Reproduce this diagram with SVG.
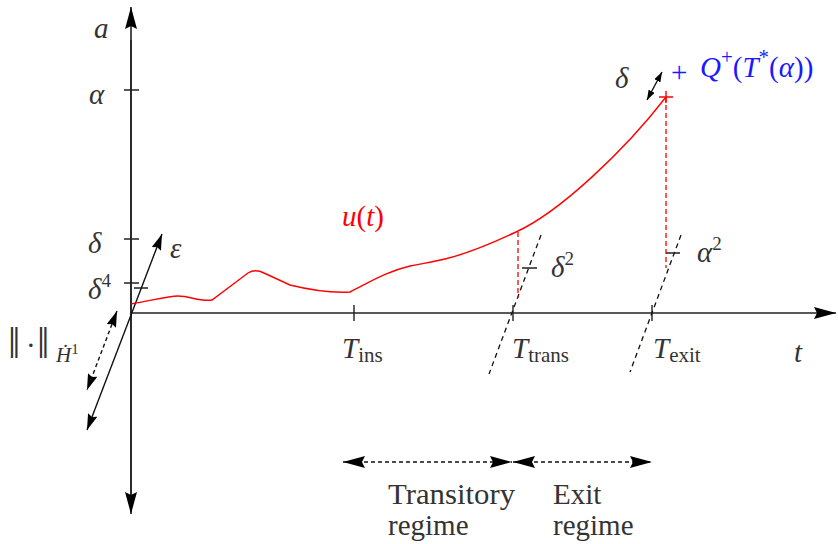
<svg xmlns="http://www.w3.org/2000/svg" width="838" height="544" viewBox="0 0 838 544">
<style>
text{font-family:"Liberation Serif","DejaVu Serif",serif;font-size:29px;fill:#333}
.it{font-style:italic}
.sub{font-size:21px;font-style:normal}
.sup{font-size:19px;font-style:normal}
.ax{stroke:#222;stroke-width:1.6;fill:none}
.tk{stroke:#222;stroke-width:1.4;fill:none}
.dk{stroke:#111;stroke-width:1.3;stroke-dasharray:5,4;fill:none}
.rd{stroke:#f00;stroke-width:1.3;stroke-dasharray:5,3;fill:none}
.arr{stroke:#111;stroke-width:1.4;fill:none}
.red{fill:#f00}
.blue{fill:#1a1aff}
</style>
<defs>
<marker id="big" viewBox="0 0 22 12" refX="22" refY="6" markerWidth="22" markerHeight="12" markerUnits="userSpaceOnUse" orient="auto-start-reverse"><path d="M0,0 L22,6 L0,12 L3,6 z" fill="#000"/></marker>
<marker id="mid" viewBox="0 0 16 10" refX="16" refY="5" markerWidth="16" markerHeight="10" markerUnits="userSpaceOnUse" orient="auto-start-reverse"><path d="M0,0 L16,5 L0,10 L2,5 z" fill="#000"/></marker>
<marker id="sm" viewBox="0 0 10 7" refX="10" refY="3.5" markerWidth="10" markerHeight="7" markerUnits="userSpaceOnUse" orient="auto-start-reverse"><path d="M0,0 L10,3.5 L0,7 z" fill="#000"/></marker>
</defs>

<g id="axes">
<line class="ax" x1="131" y1="500" x2="131" y2="7" marker-end="url(#big)"/>
<line class="ax" x1="131" y1="40" x2="131" y2="514" marker-end="url(#big)"/>
<line class="ax" x1="131" y1="313" x2="836" y2="313" stroke-width="2" marker-end="url(#big)"/>
<path class="tk" d="M124,90H139M124,239H139M124,283H139M134,288H148M354,305V321M513,305V321M652,305V321M522,268H537M666,253H680"/>
</g>

<g id="labels-y">
<text class="it" x="94" y="38">a</text>
<text class="it" x="89" y="104">α</text>
<text class="it" x="88" y="253">δ</text>
<text class="it" x="88" y="299">δ<tspan class="sup" dy="-12">4</tspan></text>
<text class="it" x="170" y="258">ε</text>
<text x="8" y="358"><tspan font-size="44">‖</tspan><tspan x="26" y="355">·</tspan><tspan x="37" y="358" font-size="44">‖</tspan><tspan x="56" y="362" font-size="21" font-style="italic">Ḣ</tspan><tspan font-size="15" dy="-8">1</tspan></text>
</g>

<g id="connectors">
<line class="arr" x1="87" y1="430" x2="162" y2="234" marker-start="url(#mid)" marker-end="url(#mid)"/>
<line class="arr" x1="117" y1="311" x2="87" y2="390" stroke-dasharray="4,3" marker-start="url(#mid)" marker-end="url(#mid)"/>
<line class="arr" x1="647" y1="100" x2="662" y2="72" marker-start="url(#sm)" marker-end="url(#sm)"/>
<line class="arr" x1="343" y1="462" x2="512" y2="462" stroke-dasharray="4,3" marker-start="url(#big)" marker-end="url(#big)"/>
<line class="arr" x1="513" y1="462" x2="652" y2="462" stroke-dasharray="4,3" marker-start="url(#big)" marker-end="url(#big)"/>
<line class="dk" x1="541" y1="235" x2="489" y2="374"/>
<line class="dk" x1="681" y1="235" x2="630" y2="372"/>
<line class="rd" x1="518" y1="232" x2="518" y2="298"/>
<line class="rd" x1="666" y1="97" x2="666" y2="268"/>
</g>

<g id="curve">
<path d="M131,304 C150,301 168,296 178,296 C190,296 200,302 212,300 L248,273 C253,270 258,270 264,273 L290,285 C310,290 330,293 350,292 C370,282 385,272 410,266 C425,263 432,262 445,259 C470,253 495,242 516,232 C560,212 625,150 666,97" fill="none" stroke="#f00" stroke-width="1.4"/>
<path d="M659,97H673M666,91V103" stroke="#f00" stroke-width="1.4"/>
<text class="red" x="342" y="226" font-size="31"><tspan class="it">u</tspan>(<tspan class="it">t</tspan>)</text>
</g>

<g id="labels-t">
<text class="it" x="342" y="358">T<tspan class="sub" dy="4">ins</tspan></text>
<text class="it" x="512" y="358">T<tspan class="sub" dy="4">trans</tspan></text>
<text class="it" x="653" y="358">T<tspan class="sub" dy="4">exit</tspan></text>
<text class="it" x="794" y="362">t</text>
<text class="it" x="551" y="277">δ<tspan class="sup" dy="-12">2</tspan></text>
<text class="it" x="697" y="262">α<tspan class="sup" dy="-12">2</tspan></text>
<text class="it" x="615" y="88">δ</text>
<text class="blue" x="671" y="82">+</text>
<text class="blue" x="700" y="77" font-size="31"><tspan class="it">Q</tspan><tspan font-size="21" dy="-13">+</tspan><tspan dy="13">(</tspan><tspan class="it">T</tspan><tspan font-size="21" dy="-13">*</tspan><tspan dy="13">(</tspan><tspan class="it">α</tspan>))</text>
</g>

<g id="regimes">
<text x="388" y="504" textLength="127" lengthAdjust="spacingAndGlyphs">Transitory</text>
<text x="388" y="535">regime</text>
<text x="553" y="504">Exit</text>
<text x="553" y="535">regime</text>
</g>
</svg>
